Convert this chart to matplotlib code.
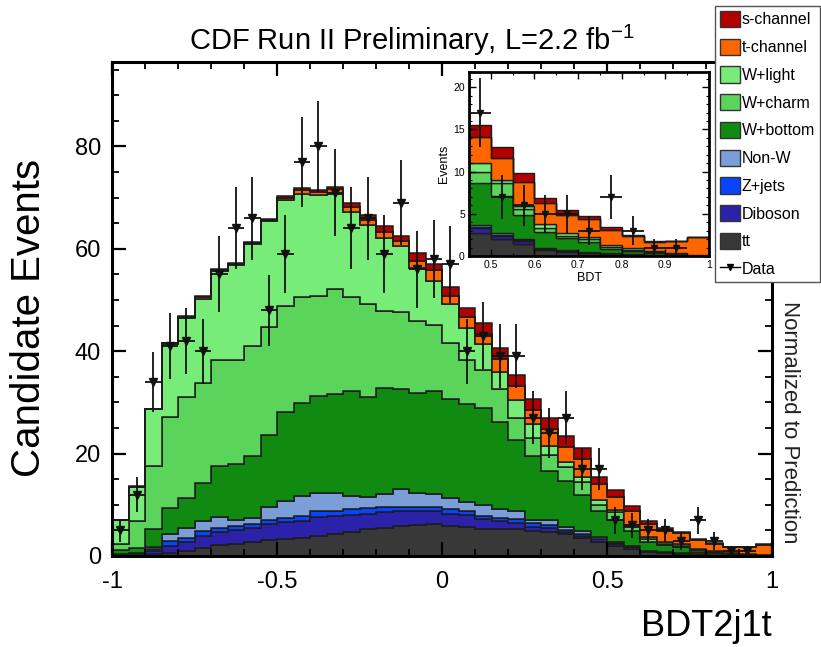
"""Stacked BDT2j1t template plot with data points and a zoomed inset of the signal region."""

import matplotlib.pyplot as plt
import numpy as np
from matplotlib.lines import Line2D
from matplotlib.patches import Patch

plt.rcParams["font.family"] = ["Liberation Sans", "DejaVu Sans"]
plt.rcParams["mathtext.fontset"] = "custom"
plt.rcParams["mathtext.rm"] = "Liberation Sans"
plt.rcParams["mathtext.it"] = "Liberation Sans:italic"

# 40 bins of width 0.05 from -1 to 1
bin_edges = np.linspace(-1.0, 1.0, 41)

# cumulative stack heights (bottom -> top)
cum_tt = [0.1, 0.15, 0.3, 0.65, 1.0, 1.6, 2.2, 2.4, 2.7, 3.1, 3.3, 3.6, 3.9, 4.2, 4.6, 5.2, 5.4, 5.9, 6.1, 6.2,
          5.9, 5.7, 5.2, 5.2, 5.2, 4.9, 4.6, 4.2, 3.5, 2.7, 2.0, 1.4, 0.7, 0.5, 0.35, 0.15, 0.1, 0.05, 0.04, 0.01]
cum_diboson = [0.2, 0.35, 1.0, 2.0, 2.8, 3.9, 4.6, 5.0, 5.5, 6.2, 6.6, 6.8, 7.6, 7.8, 8.0, 8.3, 8.5, 8.7, 8.7, 8.7,
               8.3, 8.0, 7.2, 6.8, 6.5, 5.7, 5.4, 4.7, 4.0, 3.3, 2.4, 1.8, 0.85, 0.6, 0.4, 0.2, 0.12, 0.06, 0.05, 0.01]
cum_zjets = [0.25, 0.45, 1.4, 2.9, 3.6, 4.8, 5.4, 5.9, 6.3, 7.0, 7.4, 7.8, 8.7, 8.8, 9.1, 9.3, 9.5, 9.6, 9.6, 9.5,
             9.1, 8.8, 7.8, 7.5, 7.2, 6.4, 6.0, 5.0, 4.3, 3.4, 2.5, 1.9, 0.9, 0.65, 0.45, 0.25, 0.15, 0.08, 0.06, 0.02]
cum_nonw = [0.35, 0.6, 1.8, 4.2, 5.4, 6.8, 7.6, 7.0, 7.5, 9.5, 10.8, 11.7, 12.4, 12.4, 11.7, 11.5, 12.2, 13.0, 12.4, 12.1,
            11.4, 10.6, 9.9, 9.1, 8.7, 7.0, 7.0, 5.7, 4.9, 3.7, 2.7, 2.0, 1.0, 0.7, 0.5, 0.3, 0.2, 0.1, 0.08, 0.03]
cum_wbottom = [1.2, 1.6, 5.2, 9.3, 11.4, 14.3, 17.5, 17.9, 19.6, 23.6, 28.2, 29.8, 31.3, 31.7, 32.2, 31.1, 32.9, 32.7, 31.8, 32.2,
               30.7, 29.7, 29.0, 26.1, 22.7, 19.5, 16.6, 14.7, 12.0, 8.7, 7.1, 4.8, 2.8, 2.1, 1.7, 0.85, 0.6, 0.35, 0.25, 0.06]
cum_wcharm = [2.3, 6.8, 17.5, 27.2, 31.0, 33.7, 38.3, 38.3, 41.1, 44.8, 48.9, 50.6, 50.7, 52.2, 50.5, 49.3, 47.9, 47.6, 46.0, 45.2,
              41.7, 38.3, 36.3, 32.6, 27.0, 23.0, 19.8, 17.3, 14.5, 10.0, 8.6, 5.6, 3.3, 2.4, 2.0, 1.1, 0.75, 0.45, 0.3, 0.08]
cum_wlight = [6.95, 13.5, 28.7, 41.4, 46.5, 50.3, 55.6, 56.8, 60.9, 65.4, 69.5, 70.8, 70.6, 70.8, 67.2, 64.6, 62.1, 60.5, 56.3, 53.8,
              49.3, 44.6, 41.4, 35.9, 30.5, 25.8, 21.5, 18.3, 15.5, 11.0, 9.0, 5.9, 3.8, 2.7, 2.3, 1.3, 0.9, 0.55, 0.35, 0.1]
cum_tchannel = [6.98, 13.55, 28.75, 41.55, 46.65, 50.5, 55.8, 57.0, 61.1, 65.6, 70.0, 71.4, 71.1, 71.6, 68.2, 65.7, 63.3, 61.6, 57.7, 55.8,
                50.7, 46.6, 43.4, 38.5, 33.3, 28.5, 24.8, 21.2, 19.0, 14.1, 11.6, 8.8, 6.3, 4.9, 4.4, 3.1, 2.4, 1.7, 1.75, 2.2]
cum_schannel = [7.0, 13.6, 28.8, 41.7, 46.8, 50.7, 56.1, 57.2, 61.4, 65.9, 70.3, 71.9, 71.5, 72.1, 68.9, 66.7, 64.4, 62.6, 59.2, 57.0,
                52.6, 48.5, 45.6, 40.7, 35.4, 30.7, 26.9, 23.5, 21.0, 15.5, 12.9, 9.8, 6.9, 5.4, 4.7, 3.4, 2.5, 1.8, 1.8, 2.3]

data_counts = [5, 12, 34, 41, 42, 40, 55, 64, 66, 48, 59, 77, 80, 71, 64, 66, 59, 69, 56, 58,
               57, 40, 43, 39, 39, 27, 24, 27, 17, 17, 7, 6, 5, 5, 3, 7, 3, 1, 1, 0]

process_labels = ["tt", "Diboson", "Z+jets", "Non-W", "W+bottom", "W+charm", "W+light", "t-channel", "s-channel"]
process_colors = ["#383838", "#2c22aa", "#0644ff", "#7c9ed8", "#118a11", "#5ad45a", "#78ec78", "#ff6600", "#b00000"]

x_ticks = [-1, -0.5, 0, 0.5, 1]
x_tick_labels = ["-1", "-0.5", "0", "0.5", "1"]
y_ticks = [0, 20, 40, 60, 80]
y_tick_labels = ["0", "20", "40", "60", "80"]
inset_x_ticks = [0.5, 0.6, 0.7, 0.8, 0.9, 1.0]
inset_x_tick_labels = ["0.5", "0.6", "0.7", "0.8", "0.9", "1"]
inset_y_ticks = [0, 5, 10, 15, 20]


def _draw_stack(ax, counts_lw, marker_size):
    levels = [np.zeros(len(bin_edges) - 1), cum_tt, cum_diboson, cum_zjets, cum_nonw,
              cum_wbottom, cum_wcharm, cum_wlight, cum_tchannel, cum_schannel]
    for k, color in enumerate(process_colors):
        ax.stairs(np.asarray(levels[k + 1]), bin_edges, baseline=np.asarray(levels[k]),
                  fill=True, facecolor=color, edgecolor="#1c1c1c", linewidth=counts_lw)

    centers = 0.5 * (bin_edges[:-1] + bin_edges[1:])
    counts = np.asarray(data_counts, dtype=float)
    keep = counts > 0
    ax.errorbar(centers[keep], counts[keep], yerr=np.sqrt(counts[keep]), xerr=0.025,
                fmt="v", color="#111111", ms=marker_size, elinewidth=1.3, capsize=0, zorder=5)


def main():
    fig = plt.figure(figsize=(8.21, 6.47), dpi=100)

    ax = fig.add_axes([112 / 821, 1 - 556 / 647, 660 / 821, 494 / 647])
    _draw_stack(ax, 1.1, 6)
    ax.set_xlim(-1, 1)
    ax.set_ylim(0, 96.5)
    ax.set_xticks(x_ticks, labels=x_tick_labels)
    ax.set_yticks(y_ticks, labels=y_tick_labels)
    ax.set_xticks(np.arange(-1, 1.001, 0.1), minor=True)
    ax.set_yticks(np.arange(0, 96, 5), minor=True)
    ax.tick_params(which="both", direction="in", top=True, right=True, labelsize=17)
    ax.tick_params(which="major", length=10, width=1.6)
    ax.tick_params(which="minor", length=5, width=1.3)
    ax.tick_params(axis="x", pad=11)
    ax.tick_params(axis="y", pad=8)
    for spine in ax.spines.values():
        spine.set_linewidth(2.2)

    fig.text(412 / 821, 1 - 40 / 647, "CDF Run II Preliminary, L=2.2 fb$^{-1}$",
             ha="center", va="center", fontsize=21)
    fig.text(29 / 821, 1 - 318 / 647, "Candidate Events", rotation=90,
             ha="center", va="center", fontsize=29)
    fig.text(772 / 821, 1 - 626 / 647, "BDT2j1t", ha="right", va="center", fontsize=26)
    fig.text(789 / 821, 1 - 422 / 647, "Normalized to Prediction", rotation=270,
             ha="center", va="center", fontsize=16, color="#222222")

    inset = fig.add_axes([469 / 821, 1 - 256 / 647, 240 / 821, 184 / 647])
    _draw_stack(inset, 1.0, 4.5)
    inset.set_xlim(0.45, 1.0)
    inset.set_ylim(0, 21.8)
    inset.set_xticks(inset_x_ticks, labels=inset_x_tick_labels)
    inset.set_yticks(inset_y_ticks)
    inset.set_xticks(np.arange(0.45, 1.001, 0.05), minor=True)
    inset.set_yticks(np.arange(0, 21.8, 1), minor=True)
    inset.tick_params(which="both", direction="in", top=True, right=True, labelsize=7.5, pad=3)
    inset.tick_params(which="major", length=5, width=1.0)
    inset.tick_params(which="minor", length=2.5, width=0.8)
    inset.set_xlabel("BDT", fontsize=9, labelpad=1)
    inset.set_ylabel("Events", fontsize=9, labelpad=2)
    for spine in inset.spines.values():
        spine.set_linewidth(2.0)

    handles = [Patch(facecolor=c, edgecolor="#333333", linewidth=1.0) for c in process_colors[::-1]]
    handles.append(Line2D([], [], color="black", marker="v", ms=5, lw=1.0))
    labels = process_labels[::-1] + ["Data"]
    fig.legend(handles, labels, loc="upper right", bbox_to_anchor=(820 / 821, 1 - 6 / 647),
               fontsize=11.5, handlelength=1.25, handleheight=1.2, handletextpad=0.15,
               labelspacing=0.7, borderpad=0.3, borderaxespad=0, fancybox=False,
               edgecolor="#555555", framealpha=1)

    fig.savefig("out.png", dpi=100)


if __name__ == "__main__":
    main()
